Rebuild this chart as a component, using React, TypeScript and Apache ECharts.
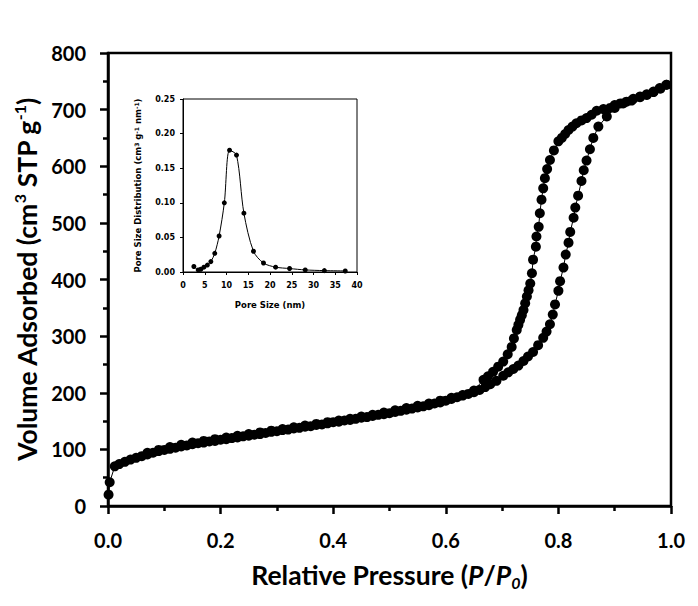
import React, { useEffect, useRef } from "react";
import * as echarts from "echarts";

// Adsorption branch (relative pressure, volume adsorbed cm3 STP/g)
const adsP = [0.001, 0.003, 0.012, 0.02, 0.03, 0.04, 0.05, 0.06, 0.07, 0.08, 0.09, 0.10, 0.11, 0.12, 0.13, 0.14, 0.15, 0.16, 0.17, 0.18, 0.19, 0.20, 0.21, 0.22, 0.23, 0.24, 0.25, 0.26, 0.27, 0.28, 0.29, 0.30, 0.31, 0.32, 0.33, 0.34, 0.35, 0.36, 0.37, 0.38, 0.39, 0.40, 0.41, 0.42, 0.43, 0.44, 0.45, 0.46, 0.47, 0.48, 0.49, 0.50, 0.51, 0.52, 0.53, 0.54, 0.55, 0.56, 0.57, 0.58, 0.59, 0.60, 0.61, 0.62, 0.63, 0.64, 0.65, 0.66, 0.67, 0.679, 0.69, 0.702, 0.711, 0.720, 0.729, 0.738, 0.746, 0.755, 0.764, 0.773, 0.779, 0.785, 0.790, 0.794, 0.800, 0.803, 0.809, 0.813, 0.818, 0.821, 0.827, 0.830, 0.835, 0.841, 0.845, 0.850, 0.856, 0.862, 0.871, 0.886, 0.900, 0.915, 0.930, 0.945, 0.957, 0.969, 0.981, 0.992];
const adsV = [20, 42, 70, 74, 78, 82, 85, 88, 91, 94, 97, 99, 101, 103, 105, 107, 109, 111, 112, 114, 115, 117, 118, 120, 121, 123, 124, 126, 127, 129, 131, 132, 134, 135, 137, 138, 140, 141, 143, 144, 146, 148, 149, 151, 152, 154, 156, 157, 159, 161, 162, 164, 166, 168, 170, 172, 174, 176, 178, 181, 183, 186, 189, 192, 195, 198, 201, 205, 210, 215, 221, 230, 236, 242, 248, 256, 264, 272, 284, 297, 308, 321, 338, 356, 380, 397, 421, 444, 465, 484, 509, 527, 548, 574, 593, 610, 630, 650, 670, 688, 703, 711, 716, 722, 726, 731, 737, 744];

// Desorption branch
const desP = [0.992, 0.980, 0.969, 0.957, 0.945, 0.933, 0.921, 0.910, 0.900, 0.892, 0.880, 0.868, 0.859, 0.850, 0.841, 0.832, 0.825, 0.818, 0.812, 0.806, 0.800, 0.792, 0.785, 0.780, 0.776, 0.773, 0.770, 0.767, 0.765, 0.761, 0.760, 0.755, 0.753, 0.750, 0.747, 0.744, 0.741, 0.738, 0.735, 0.732, 0.729, 0.726, 0.721, 0.717, 0.710, 0.702, 0.693, 0.684, 0.675, 0.667, 0.65, 0.63, 0.61, 0.59, 0.57, 0.55, 0.53, 0.51, 0.49, 0.47, 0.45, 0.43, 0.41, 0.39, 0.37, 0.35, 0.33, 0.31, 0.29, 0.27, 0.25, 0.23, 0.21, 0.19, 0.17, 0.15, 0.13, 0.11, 0.09, 0.07];
const desV = [744, 738, 732, 727, 723, 719, 714, 711, 708, 703, 701, 698, 691, 685, 681, 676, 670, 664, 657, 650, 644, 628, 611, 595, 579, 561, 541, 517, 493, 476, 458, 435, 411, 393, 381, 370, 358, 346, 337, 329, 320, 311, 296, 281, 268, 255, 246, 237, 229, 223, 204, 196, 191, 186, 181, 177, 173, 169, 165, 161, 158, 154, 151, 148, 145, 142, 139, 136, 133, 130, 127, 124, 121, 118, 115, 112, 108, 104, 99, 94];

// Inset: pore size distribution
const poreSize = [2.5, 3.5, 4.1, 4.8, 5.6, 6.4, 7.3, 8.3, 9.5, 10.7, 12.3, 14.0, 16.2, 18.5, 21.3, 24.5, 28.1, 32.5, 37.3];
const poreDist = [0.008, 0.003, 0.004, 0.007, 0.010, 0.015, 0.027, 0.052, 0.100, 0.176, 0.169, 0.085, 0.030, 0.013, 0.007, 0.005, 0.003, 0.002, 0.0015];

const FONT = "Lato";
const INSET_FONT = "DejaVu Sans";

function pairs(xs: number[], ys: number[]) {
  return xs.map((x, i) => [x, ys[i]]);
}

export default function App() {
  const ref = useRef<HTMLDivElement>(null);
  useEffect(() => {
    if (!ref.current) return;
    const chart = echarts.init(ref.current, undefined, { renderer: "svg" });
    const axisLine = { lineStyle: { color: "#000", width: 2.5 } };
    chart.setOption({
      animation: false,
      backgroundColor: "#fff",
      grid: [
        { left: 108, top: 53, right: 27, bottom: 100, show: true, borderColor: "#000", borderWidth: 2.5, backgroundColor: "transparent" },
        { left: 183, top: 99, width: 174, height: 173, show: true, borderColor: "#000", borderWidth: 1, backgroundColor: "#fff" },
      ],
      xAxis: [
        {
          type: "value", gridIndex: 0, min: 0, max: 1, interval: 0.2,
          axisLine, splitLine: { show: false },
          axisTick: { length: 8, lineStyle: { width: 2.5, color: "#000" } },
          minorTick: { show: true, splitNumber: 2, length: 5, lineStyle: { width: 2.5, color: "#000" } },
          axisLabel: { margin: 24, fontFamily: FONT, fontWeight: "bold", fontSize: 20, color: "#000", formatter: (v: number) => v.toFixed(1) },
          name: "Relative Pressure ({i|P}/{i|P}{sub|0})",
          nameLocation: "middle", nameGap: 54,
          nameTextStyle: {
            fontFamily: FONT, fontWeight: "bold", fontSize: 26.5, color: "#000",
            rich: {
              i: { fontFamily: FONT, fontWeight: "bold", fontStyle: "italic", fontSize: 26.5, color: "#000" },
              sub: { fontFamily: FONT, fontWeight: "bold", fontStyle: "italic", fontSize: 16, color: "#000", verticalAlign: "bottom", padding: [14, 0, 0, 0] },
            },
          },
        },
        {
          type: "value", gridIndex: 1, min: 0, max: 40, interval: 5,
          axisLine: { lineStyle: { color: "#000", width: 1 } }, splitLine: { show: false },
          axisTick: { length: 3, lineStyle: { width: 1, color: "#000" } },
          axisLabel: { margin: 9, fontFamily: INSET_FONT, fontWeight: "bold", fontSize: 8, color: "#000" },
          name: "Pore Size (nm)", nameLocation: "middle", nameGap: 28,
          nameTextStyle: { fontFamily: INSET_FONT, fontWeight: "bold", fontSize: 8.5, color: "#000" },
        },
      ],
      yAxis: [
        {
          type: "value", gridIndex: 0, min: 0, max: 800, interval: 100,
          axisLine, splitLine: { show: false },
          axisTick: { length: 8, lineStyle: { width: 2.5, color: "#000" } },
          minorTick: { show: true, splitNumber: 2, length: 5, lineStyle: { width: 2.5, color: "#000" } },
          axisLabel: { margin: 22, fontFamily: FONT, fontWeight: "bold", fontSize: 20, color: "#000" },
          name: "Volume Adsorbed (cm{sup|3} STP g{sup|-1})",
          nameLocation: "middle", nameGap: 66, nameRotate: 90,
          nameTextStyle: {
            fontFamily: FONT, fontWeight: "bold", fontSize: 26.5, color: "#000",
            rich: {
              sup: { fontFamily: FONT, fontWeight: "bold", fontSize: 16, color: "#000", verticalAlign: "top", padding: [0, 0, 14, 0] },
            },
          },
        },
        {
          type: "value", gridIndex: 1, min: 0, max: 0.25, interval: 0.05,
          axisLine: { lineStyle: { color: "#000", width: 1 } }, splitLine: { show: false },
          axisTick: { length: 3, lineStyle: { width: 1, color: "#000" } },
          axisLabel: { margin: 8, fontFamily: INSET_FONT, fontWeight: "bold", fontSize: 8, color: "#000", formatter: (v: number) => v.toFixed(2) },
          name: "Pore Size Distribution (cm{sup|3} g{sup|-1} nm{sup|-1})",
          nameLocation: "middle", nameGap: 40, nameRotate: 90,
          nameTextStyle: {
            fontFamily: INSET_FONT, fontWeight: "bold", fontSize: 8.5, color: "#000",
            rich: {
              sup: { fontFamily: INSET_FONT, fontWeight: "bold", fontSize: 6, color: "#000", verticalAlign: "top", padding: [0, 0, 4, 0] },
            },
          },
        },
      ],
      series: [
        {
          type: "line", xAxisIndex: 0, yAxisIndex: 0, data: pairs(adsP, adsV),
          symbol: "circle", symbolSize: 10, itemStyle: { color: "#000" }, lineStyle: { color: "#000", width: 1 },
        },
        {
          type: "line", xAxisIndex: 0, yAxisIndex: 0, data: pairs(desP, desV),
          symbol: "circle", symbolSize: 10, itemStyle: { color: "#000" }, lineStyle: { color: "#000", width: 1 },
        },
        {
          type: "line", xAxisIndex: 1, yAxisIndex: 1, data: pairs(poreSize, poreDist), smooth: 0.3,
          symbol: "circle", symbolSize: 5, itemStyle: { color: "#000" }, lineStyle: { color: "#000", width: 1 },
        },
      ],
    });
    return () => chart.dispose();
  }, []);
  return <div ref={ref} style={{ width: 698, height: 606, position: "absolute", left: 0, top: 0 }} />;
}
